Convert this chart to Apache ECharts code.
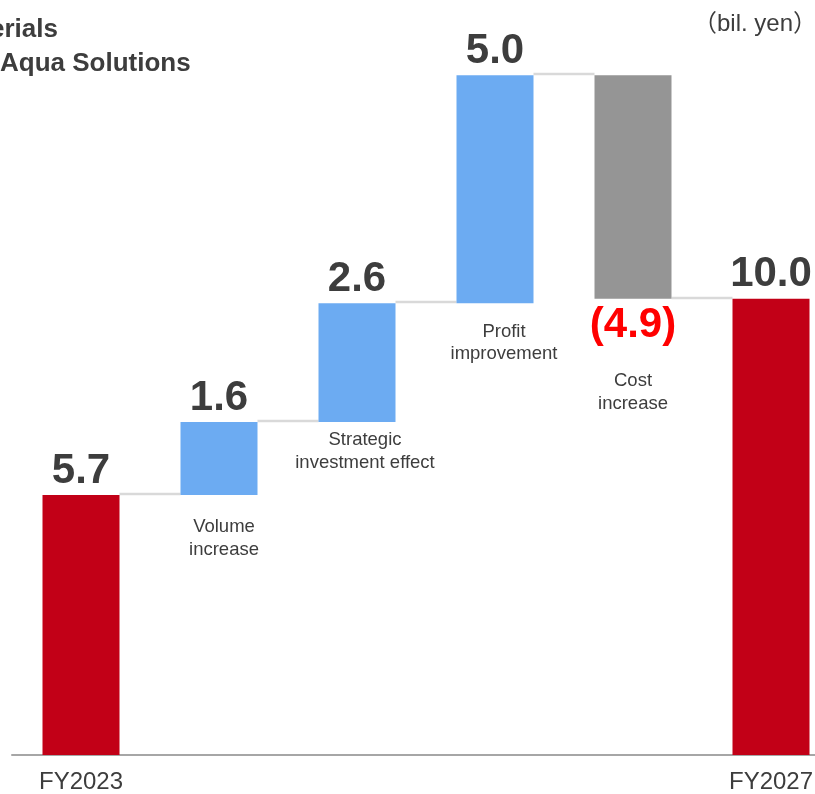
<!DOCTYPE html>
<html>
<head>
<meta charset="utf-8">
<script src="https://cdn.jsdelivr.net/npm/echarts@6/dist/echarts.min.js"></script>
<style>html,body{margin:0;padding:0;background:#fff;}#main{width:815px;height:794px;}</style>
</head>
<body>
<div id="main"></div>
<script>
// ---- data ----
const categories = ['FY2023', 'Volume increase', 'Strategic investment effect', 'Profit improvement', 'Cost increase', 'FY2027'];
const axisLabels = ['FY2023', '', '', '', '', 'FY2027'];
const descriptions = ['', 'Volume\nincrease', 'Strategic\ninvestment effect', 'Profit\nimprovement', 'Cost\nincrease', ''];
const values = [5.7, 1.6, 2.6, 5.0, -4.9, 10.0];
const kinds = ['total', 'delta', 'delta', 'delta', 'delta', 'total'];
const valueLabels = ['5.7', '1.6', '2.6', '5.0', '(4.9)', '10.0'];
const yTicks = [0, 16];

// ---- derived waterfall geometry (from values) ----
const base = [], height = [], levelAfter = [];
let run = 0;
values.forEach((v, i) => {
  if (kinds[i] === 'total') { base.push(0); height.push(v); run = v; }
  else if (v >= 0) { base.push(run); height.push(v); run += v; }
  else { base.push(run + v); height.push(-v); run += v; }
  levelAfter.push(run);
});

const RED = '#c20017', BLUE = '#6cabf2', GRAY = '#959595', TXT = '#3d3d3d';
const colors = values.map((v, i) => kinds[i] === 'total' ? RED : (v >= 0 ? BLUE : GRAY));
const descOffsets = [[0,0],[5,16],[8,2],[9,12],[0,66],[0,0]];
const FONT = 'Liberation Sans, Arial, sans-serif';

const chart = echarts.init(document.getElementById('main'));
chart.setOption({
  animation: false,
  grid: { left: 12, top: 25, width: 828, bottom: 39, containLabel: false, outerBoundsMode: 'none' },
  xAxis: {
    type: 'category',
    data: categories,
    axisTick: { show: false },
    axisLine: { lineStyle: { color: '#a6a6a6', width: 2 } },
    axisLabel: {
      formatter: (val, idx) => axisLabels[idx],
      color: TXT, fontSize: 24, fontFamily: FONT, margin: 15,
      interval: 0
    }
  },
  yAxis: {
    type: 'value', min: yTicks[0], max: yTicks[1], show: false,
    splitLine: { show: false }
  },
  graphic: [
    { type: 'text', left: -10, top: 17, style: { text: 'erials', fontSize: 26, fontWeight: 'bold', fill: TXT, fontFamily: FONT } },
    { type: 'text', left: 0, top: 51, style: { text: 'Aqua Solutions', fontSize: 26, fontWeight: 'bold', fill: TXT, fontFamily: FONT } },
    { type: 'text', right: -2, top: 12, style: { text: '（bil. yen）', fontSize: 24, fill: TXT, fontFamily: 'Liberation Sans, Noto Sans CJK JP, sans-serif' } }
  ],
  series: [
    {
      type: 'bar', stack: 'wf', barWidth: 77, silent: true,
      itemStyle: { color: 'transparent' },
      data: base.map((b, i) => ({
        value: b,
        label: descriptions[i] ? {
          show: true, position: 'insideTop', formatter: descriptions[i],
          offset: descOffsets[i], color: TXT, fontSize: 18.5, lineHeight: 22.5,
          fontFamily: FONT, overflow: 'none', width: 220
        } : { show: false }
      }))
    },
    {
      type: 'bar', stack: 'wf', barWidth: 77,
      data: height.map((h, i) => ({
        value: h,
        itemStyle: { color: colors[i] },
        label: {
          show: true,
          position: values[i] < 0 ? 'bottom' : 'top',
          distance: values[i] < 0 ? 5 : 2,
          formatter: valueLabels[i],
          color: values[i] < 0 ? '#ff0000' : TXT,
          fontSize: 42, fontWeight: 'bold', lineHeight: 44,
          fontFamily: FONT
        }
      }))
    },
    {
      type: 'custom', silent: true, z: 1,
      data: levelAfter.slice(0, -1).map((lv, i) => [i, lv]),
      renderItem: (params, api) => {
        const i = api.value(0), lv = api.value(1);
        const p1 = api.coord([i, lv]);
        const p2 = api.coord([i + 1, lv]);
        const half = 77 / 2;
        return {
          type: 'line',
          shape: { x1: p1[0] + half, y1: Math.round(p1[1]) - 1, x2: p2[0] - half, y2: Math.round(p1[1]) - 1 },
          style: { stroke: '#d9d9d9', lineWidth: 2.5 }
        };
      }
    }
  ]
});
</script>
</body>
</html>
